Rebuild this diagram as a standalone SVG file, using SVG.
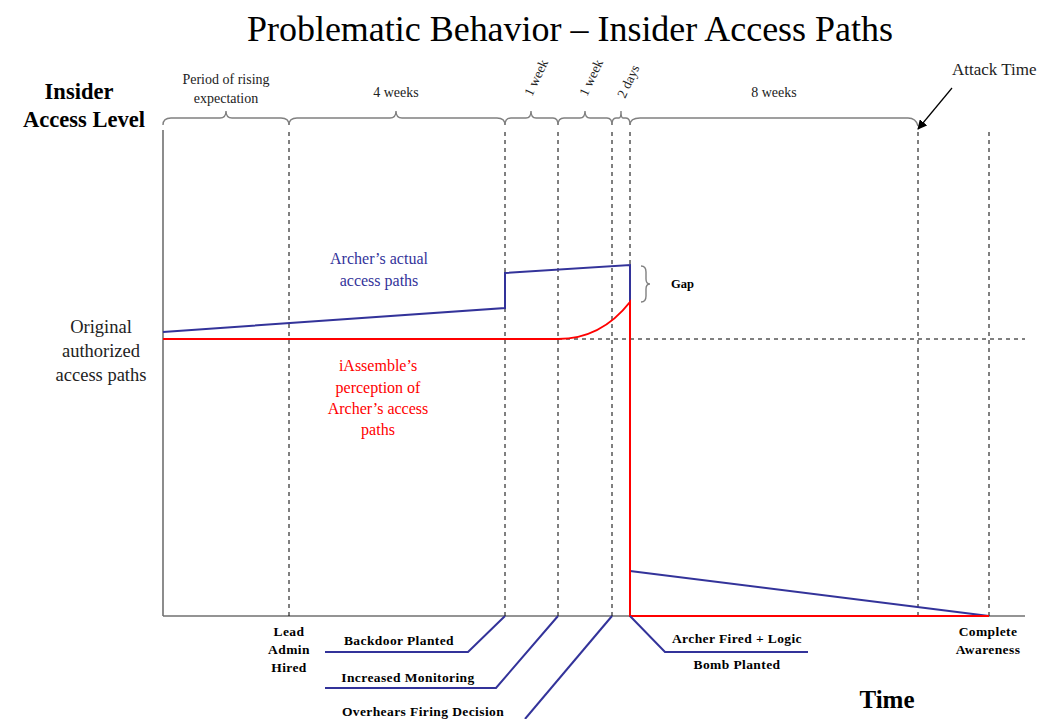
<svg xmlns="http://www.w3.org/2000/svg" width="1051" height="719" viewBox="0 0 1051 719">
<defs>
<style>
.serif{font-family:"Liberation Serif","Times New Roman",serif;}
.title{font-size:35px;fill:#000;}
.axlbl{font-size:22.5px;font-weight:bold;}
.top{font-size:14px;fill:#222;}
.rot{font-size:13.5px;fill:#222;}
.left{font-size:18.5px;fill:#222;}
.blue{font-size:16px;fill:#33339a;}
.red{font-size:16px;fill:#ff0000;}
.ev{font-size:13.5px;font-weight:bold;fill:#000;letter-spacing:0.4px;}
.axis{stroke:#707070;stroke-width:1.6;fill:none;}
.dash{stroke:#000;stroke-width:1;stroke-dasharray:4,4;fill:none;}
.brace{stroke:#808080;stroke-width:1.4;fill:none;}
.bl{stroke:#33339a;stroke-width:2;fill:none;}
.rd{stroke:#ff0000;stroke-width:2;fill:none;}
</style>
<marker id="arr" viewBox="0 0 10 10" refX="9" refY="5" markerWidth="8" markerHeight="8" orient="auto">
<path d="M0,0 L10,5 L0,10 z" fill="#000"/>
</marker>
</defs>
<rect width="1051" height="719" fill="#fff"/>

<text class="serif title" x="570" y="41" text-anchor="middle" textLength="646" lengthAdjust="spacingAndGlyphs">Problematic Behavior – Insider Access Paths</text>

<g id="axes">
<line class="axis" x1="163" y1="130" x2="163" y2="616"/>
<line class="axis" x1="163" y1="616" x2="1025" y2="616"/>
<text class="serif axlbl" x="79" y="99" text-anchor="middle">Insider</text>
<text class="serif axlbl" x="84" y="127" text-anchor="middle">Access Level</text>
<text class="serif" x="887" y="708" text-anchor="middle" font-size="25" font-weight="bold">Time</text>
</g>

<g id="gridlines">
<line class="dash" x1="289" y1="132" x2="289" y2="616"/>
<line class="dash" x1="505" y1="132" x2="505" y2="616"/>
<line class="dash" x1="558" y1="132" x2="558" y2="616"/>
<line class="dash" x1="612" y1="132" x2="612" y2="616"/>
<line class="dash" x1="630" y1="132" x2="630" y2="616"/>
<line class="dash" x1="918" y1="132" x2="918" y2="616"/>
<line class="dash" x1="989" y1="132" x2="989" y2="616"/>
<line class="dash" x1="558" y1="339" x2="1025" y2="339"/>
</g>

<g id="braces">
<path class="brace" d="M163,125 Q163,118 171,118 L220,118 Q226,118 226,111 Q226,118 232,118 L281,118 Q289,118 289,125"/>
<path class="brace" d="M289,125 Q289,118 297,118 L390,118 Q396,118 396,111 Q396,118 402,118 L497,118 Q505,118 505,125"/>
<path class="brace" d="M505,125 Q505,118 511,118 L526,118 Q531,118 531,111 Q531,118 536,118 L553,118 Q558,118 558,125"/>
<path class="brace" d="M558,125 Q558,118 564,118 L580,118 Q585,118 585,111 Q585,118 590,118 L607,118 Q612,118 612,125"/>
<path class="brace" d="M612,125 Q612,118 616,118 L619,118 Q621,118 621,111 Q621,118 623,118 L626,118 Q630,118 630,125"/>
<path class="brace" d="M630,125 Q630,118 640,118 L908,118 Q916,118 918,126"/>
<text class="serif top" x="226" y="84" text-anchor="middle">Period of rising</text>
<text class="serif top" x="226" y="103" text-anchor="middle">expectation</text>
<text class="serif top" x="396" y="97" text-anchor="middle">4 weeks</text>
<text class="serif top" x="774" y="97" text-anchor="middle">8 weeks</text>
<text class="serif rot" transform="translate(532,97) rotate(-65)">1 week</text>
<text class="serif rot" transform="translate(587,97) rotate(-65)">1 week</text>
<text class="serif rot" transform="translate(625,99) rotate(-65)">2 days</text>
</g>

<g id="attack-time">
<text class="serif" x="952" y="75" font-size="17" fill="#222">Attack Time</text>
<line x1="952" y1="88" x2="918" y2="129" stroke="#000" stroke-width="1.2" marker-end="url(#arr)"/>
</g>

<g id="original-level">
<text class="serif left" x="101" y="333" text-anchor="middle">Original</text>
<text class="serif left" x="101" y="357" text-anchor="middle">authorized</text>
<text class="serif left" x="101" y="381" text-anchor="middle">access paths</text>
</g>

<g id="actual-paths">
<path class="bl" d="M163,332 L505,308 L505,273 L630,265 L630,302"/>
<path class="bl" d="M630,571 L989,616"/>
<text class="serif blue" x="379" y="264" text-anchor="middle">Archer’s actual</text>
<text class="serif blue" x="379" y="286" text-anchor="middle">access paths</text>
</g>

<g id="perceived-paths">
<path class="rd" d="M163,339 L558,339 C588,339 612,325 630,302 L630,616 L989,616"/>
<text class="serif red" x="378" y="371" text-anchor="middle">iAssemble’s</text>
<text class="serif red" x="378" y="393" text-anchor="middle">perception of</text>
<text class="serif red" x="378" y="414" text-anchor="middle">Archer’s access</text>
<text class="serif red" x="378" y="435" text-anchor="middle">paths</text>
</g>

<g id="gap">
<path class="brace" d="M641,266 Q646,266 646,272 L646,279 Q646,284 650,284 Q646,284 646,289 L646,296 Q646,302 641,302"/>
<text class="serif" x="671" y="288" font-size="12.5" font-weight="bold">Gap</text>
</g>

<g id="connectors">
<path class="bl" d="M325,652 L468,652 L505,616"/>
<path class="bl" d="M325,688 L496,688 L558,616"/>
<path class="bl" d="M525,719 L612,616"/>
<path class="bl" d="M630,616 L665,652 L808,652"/>
</g>

<g id="event-lead">
<text class="serif ev" x="289" y="636" text-anchor="middle">Lead</text>
<text class="serif ev" x="289" y="654" text-anchor="middle">Admin</text>
<text class="serif ev" x="289" y="672" text-anchor="middle">Hired</text>
</g>
<g id="event-backdoor">
<text class="serif ev" x="399" y="645" text-anchor="middle">Backdoor Planted</text>
</g>
<g id="event-monitoring">
<text class="serif ev" x="408" y="682" text-anchor="middle">Increased Monitoring</text>
</g>
<g id="event-overhears">
<text class="serif ev" x="423" y="716" text-anchor="middle">Overhears Firing Decision</text>
</g>
<g id="event-fired">
<text class="serif ev" x="737" y="643" text-anchor="middle">Archer Fired + Logic</text>
<text class="serif ev" x="737" y="669" text-anchor="middle">Bomb Planted</text>
</g>
<g id="event-awareness">
<text class="serif ev" x="988" y="636" text-anchor="middle">Complete</text>
<text class="serif ev" x="988" y="654" text-anchor="middle">Awareness</text>
</g>
</svg>
